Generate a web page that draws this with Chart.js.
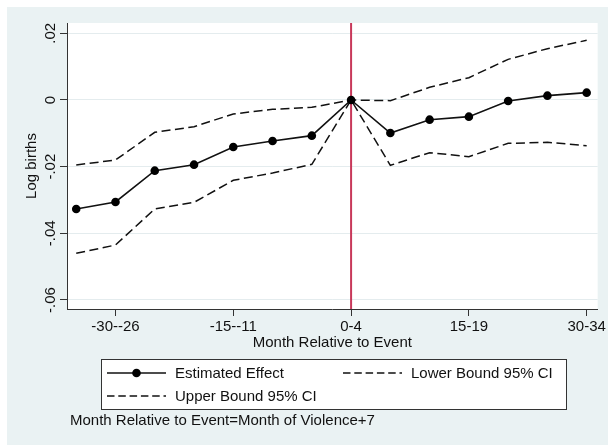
<!DOCTYPE html>
<html>
<head>
<meta charset="utf-8">
<script src="https://cdn.jsdelivr.net/npm/chart.js@4/dist/chart.umd.min.js"></script>
<style>
  html, body { margin: 0; padding: 0; background: #fff; }
  canvas { display: block; }
</style>
</head>
<body>
<canvas id="chart" width="608" height="445"></canvas>
<script>
// --- data ---
const periods = ['-35--31', '-30--26', '-25--21', '-20--16', '-15--11', '-10--6', '-5--1',
                 '0-4', '5-9', '10-14', '15-19', '20-24', '25-29', '30-34'];
const estimated = [-0.0327, -0.0306, -0.0212, -0.0194, -0.0141, -0.0123, -0.0107,
                   0, -0.0099, -0.0059, -0.0050, -0.0003, 0.0013, 0.0022];
const lowerCI = [-0.0460, -0.0435, -0.0327, -0.0307, -0.0241, -0.0219, -0.0193,
                 0, -0.0196, -0.0158, -0.0170, -0.0130, -0.0127, -0.0137];
const upperCI = [-0.0195, -0.0180, -0.0097, -0.0080, -0.0042, -0.0028, -0.0022,
                 0, -0.0002, 0.0038, 0.0067, 0.0122, 0.0154, 0.0179];
const yTicks = [-0.06, -0.04, -0.02, 0, 0.02];
const xTickIdx = [1, 4, 7, 10, 13];
const eventIdx = 7;
const yMin = -0.0627, yMax = 0.0231;

const FONT = "'Liberation Sans', Arial, sans-serif";
const BG = '#EAF2F3';
const INK = '#111';

const toXY = arr => arr.map((v, i) => ({ x: i, y: v }));

const fmtY = v => {
    if (Math.abs(v) < 1e-9) return '0';
    const s = Math.abs(v).toFixed(2).replace(/^0/, '');
    return (v < 0 ? '-' : '') + s;
};

// background: light frame, white plot region
const bgPlugin = {
    id: 'bg',
    beforeDraw(chart) {
        const c = chart.ctx, a = chart.chartArea;
        c.save();
        c.fillStyle = '#fff';
        c.fillRect(0, 0, chart.width, chart.height);
        c.fillStyle = BG;
        c.fillRect(7, 7, chart.width - 7, chart.height - 7);
        c.fillStyle = '#fff';
        c.fillRect(a.left, a.top, a.right - a.left, a.bottom - a.top);
        c.restore();
    }
};

// legend box + note under it
const legendPlugin = {
    id: 'stataLegend',
    afterDraw(chart) {
        const c = chart.ctx;
        const ds = chart.data.datasets;
        c.save();
        c.fillStyle = '#fff';
        c.fillRect(101, 359, 465, 50);
        c.strokeStyle = '#333';
        c.lineWidth = 1;
        c.strokeRect(101.5, 359.5, 465, 50);

        const entries = [
            { d: ds[1], x: 107, y: 373 },
            { d: ds[2], x: 343, y: 373 },
            { d: ds[3], x: 107, y: 396 }
        ];
        c.font = '15px ' + FONT;
        c.textBaseline = 'middle';
        entries.forEach(e => {
            c.strokeStyle = e.d.borderColor;
            c.lineWidth = e.d.borderWidth;
            c.setLineDash(e.d.borderDash ? [7.5, 3.8] : []);
            c.beginPath();
            c.moveTo(e.x, e.y);
            c.lineTo(e.x + 59, e.y);
            c.stroke();
            c.setLineDash([]);
            if (e.d.pointRadius > 0) {
                c.fillStyle = e.d.pointBackgroundColor;
                c.beginPath();
                c.arc(e.x + 29.5, e.y, e.d.pointRadius, 0, Math.PI * 2);
                c.fill();
            }
            c.fillStyle = INK;
            c.textAlign = 'left';
            c.fillText(e.d.label, e.x + 68, e.y + 1);
        });

        c.fillText('Month Relative to Event=Month of Violence+7', 70, 421);
        c.restore();
    }
};

const ctx = document.getElementById('chart').getContext('2d');
const chart = new Chart(ctx, {
    type: 'line',
    data: {
        datasets: [{
            label: 'event',
            data: [{ x: eventIdx, y: yMin }, { x: eventIdx, y: yMax }],
            borderColor: '#C8385A',
            borderWidth: 2,
            pointRadius: 0,
            order: 10
        }, {
            label: 'Estimated Effect',
            data: toXY(estimated),
            borderColor: INK,
            borderWidth: 1.6,
            pointRadius: 4.3,
            pointBackgroundColor: '#000',
            pointBorderWidth: 0,
            order: 1
        }, {
            label: 'Lower Bound 95% CI',
            data: toXY(lowerCI),
            borderColor: INK,
            borderWidth: 1.5,
            borderDash: [9, 4.5],
            pointRadius: 0,
            order: 2
        }, {
            label: 'Upper Bound 95% CI',
            data: toXY(upperCI),
            borderColor: INK,
            borderWidth: 1.5,
            borderDash: [9, 4.5],
            pointRadius: 0,
            order: 3
        }]
    },
    options: {
        responsive: false,
        animation: false,
        devicePixelRatio: 1,
        layout: { padding: { left: 0, top: 23, right: 7, bottom: 0 } },
        elements: { line: { tension: 0, fill: false } },
        plugins: {
            legend: { display: false },
            tooltip: { enabled: false }
        },
        scales: {
            x: {
                type: 'linear',
                min: -0.235,
                max: 13.28,
                afterBuildTicks: s => { s.ticks = xTickIdx.map(v => ({ value: v })); },
                afterFit: s => { s.height = 136; },
                grid: { drawOnChartArea: false, color: '#333', tickLength: 7 },
                border: { color: '#333', width: 1 },
                ticks: {
                    color: INK,
                    font: { family: FONT, size: 15 },
                    padding: 2,
                    maxRotation: 0,
                    autoSkip: false,
                    callback: v => periods[v]
                },
                title: {
                    display: true,
                    text: 'Month Relative to Event',
                    color: INK,
                    font: { family: FONT, size: 15 },
                    padding: { top: 0, bottom: 93 }
                }
            },
            y: {
                min: yMin,
                max: yMax,
                afterBuildTicks: s => { s.ticks = yTicks.map(v => ({ value: v })); },
                afterFit: s => { s.width = 67; },
                grid: { color: '#E4ECEE', tickColor: '#333', tickLength: 7 },
                border: { color: '#333', width: 1 },
                ticks: {
                    color: INK,
                    font: { family: FONT, size: 15 },
                    minRotation: 90,
                    maxRotation: 90,
                    crossAlign: 'center',
                    padding: -4,
                    autoSkip: false,
                    callback: v => fmtY(v)
                },
                title: {
                    display: true,
                    text: 'Log births',
                    color: INK,
                    font: { family: FONT, size: 15 },
                    padding: { top: 23, bottom: 0 }
                }
            }
        }
    },
    plugins: [bgPlugin, legendPlugin]
});
</script>
</body>
</html>
